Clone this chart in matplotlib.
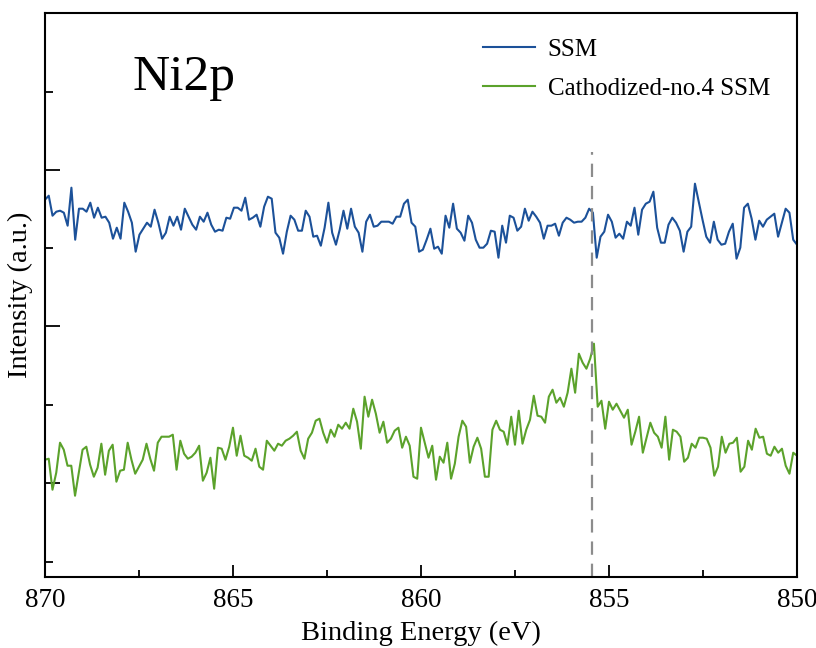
import numpy as np
import matplotlib
matplotlib.use("Agg")
import matplotlib.pyplot as plt
from matplotlib.ticker import MultipleLocator

# === DATA (intensity in a.u.) ===
ssm = [377, 381, 361, 365, 366, 364, 351, 389, 337, 368, 368, 365, 374, 359, 369, 359, 360, 354, 338, 349,
       338, 374, 365, 354, 325, 342, 348, 354, 350, 367, 354, 338, 344, 360, 351, 360, 347, 368, 360, 352,
       347, 360, 355, 364, 352, 345, 347, 346,
       359, 358, 369, 369, 366, 379, 357, 359, 362, 350, 370, 380, 378, 344, 339, 323, 345, 361, 357, 346,
       346, 366, 360, 340, 341, 331, 349, 374, 344, 332, 347, 366, 348, 368, 350, 344, 325, 355, 362, 350,
       351, 355, 355, 355, 353, 360, 360, 373, 377,
       354, 350, 325, 327, 337, 348, 328, 330, 323, 361, 349, 373, 348, 344, 336, 361, 354, 337, 329, 329,
       333, 346, 345, 319, 351, 334, 361, 359, 346, 350, 368, 356, 365, 360, 354, 338, 351, 351, 353, 341,
       354, 359, 357, 354, 355, 355, 359, 368, 364,
       319, 340, 345, 362, 355, 339, 343, 338, 355, 351, 369, 342, 367, 373, 375, 385, 349, 334, 334, 352,
       359, 354, 346, 325, 345, 350, 393, 375, 357, 340, 334, 355, 337, 332, 333, 345, 353, 318, 329, 369,
       373, 358, 337, 356, 350, 357, 360, 363, 340, 354, 368, 364, 337, 332]

cathodized = [117, 118, 87, 104, 134, 127, 111, 111, 81, 104, 127, 130, 112, 100, 109, 133, 102, 126, 132, 95,
              106, 107, 134, 117, 103, 110, 117, 133, 118, 106, 134, 140, 140, 140, 142, 107, 136, 123, 118, 120,
              124, 131, 96, 104, 119, 88, 129, 128, 117, 130,
              149, 121, 141, 121, 119, 116, 128, 110, 107, 136, 131, 126, 133, 131, 136, 138, 141, 145, 126, 118,
              138, 144, 156, 158, 144, 134, 147, 140, 152, 148, 154, 148, 168, 155, 128, 180, 160, 177, 163, 144,
              155, 134, 138, 146, 149, 129, 140, 131, 100,
              98, 149, 134, 119, 131, 97, 120, 114, 134, 98, 113, 140, 156, 150, 114, 130, 139, 128, 100, 100,
              147, 156, 147, 145, 132, 160, 132, 166, 133, 147, 157, 181, 161, 160, 154, 180, 187, 174, 179, 170,
              184, 208, 184, 223, 214, 208, 218, 233, 170,
              176, 148, 175, 167, 173, 166, 159, 167, 132, 145, 160, 124, 139, 154, 144, 140, 129, 160, 117, 147,
              145, 140, 115, 119, 133, 129, 139, 139, 138, 129, 101, 110, 140, 124, 133, 134, 139, 105, 110, 136,
              127, 148, 139, 140, 123, 121, 130, 124, 128, 111, 103, 124, 121]

labels = ["SSM", "Cathodized-no.4 SSM"]
peak_position = 855.45   # eV, dashed marker
peak_top = 425

e_ssm = np.linspace(870, 850, len(ssm))
e_cat = np.linspace(870, 850, len(cathodized))

plt.rcParams['font.family'] = ['Liberation Serif', 'DejaVu Serif']

fig = plt.figure(figsize=(8.16, 6.48), dpi=100)
ax = fig.add_axes([0.0551, 0.110, 0.9216, 0.8695])

ax.plot(e_ssm, ssm, color="#1c5199", lw=1.5, label=labels[0])
ax.plot(e_cat, cathodized, color="#5ba22b", lw=1.5, label=labels[1])
ax.plot([peak_position, peak_position], [0, peak_top], color="#8c8c8c", lw=1.6, ls=(0, (6, 4)))

ax.set_xlim(870, 850)
ax.set_ylim(0, 563.4)
ax.xaxis.set_major_locator(MultipleLocator(5))
ax.xaxis.set_minor_locator(MultipleLocator(2.5))
ax.set_yticks([94, 250.5, 407, 563.4])
ax.set_yticks([15, 172, 328.5, 485], minor=True)
ax.set_yticklabels([])
ax.tick_params(which="both", direction="in", width=1.3, top=False, right=False)
ax.tick_params(axis="x", which="major", length=9, labelsize=19.5, pad=8)
ax.tick_params(axis="x", which="minor", length=5)
ax.tick_params(axis="y", which="major", length=11)
ax.tick_params(axis="y", which="minor", length=6)
for s in ax.spines.values():
    s.set_linewidth(1.5)

ax.set_xlabel("Binding Energy (eV)", fontsize=20.5, labelpad=6)
ax.set_ylabel("Intensity (a.u.)", fontsize=20.5, labelpad=5)

ax.text(0.117, 0.885, "Ni2p", transform=ax.transAxes, fontsize=37, va="center", ha="left")

ax.legend(loc="upper right", bbox_to_anchor=(0.994, 0.995), frameon=False, fontsize=18,
          handlelength=2.1, handletextpad=0.5, labelspacing=0.65)

fig.savefig("out.png", dpi=100)
